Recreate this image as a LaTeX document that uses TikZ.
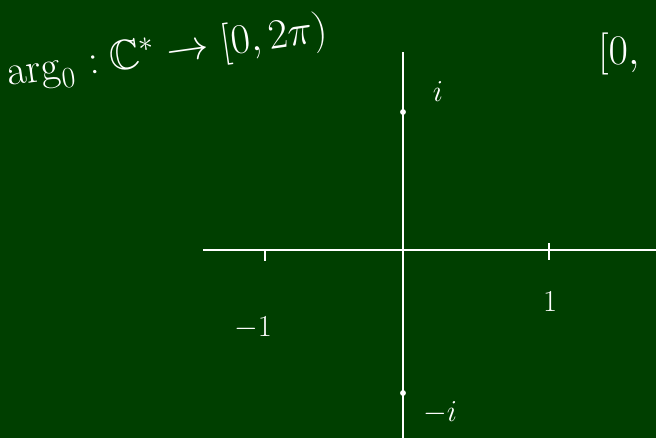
\documentclass[tikz,border=0pt]{standalone}
\usepackage{fix-cm}
\usepackage{amsmath,amssymb}
\usetikzlibrary{positioning}
\definecolor{BoardGreen}{HTML}{003F00}
\definecolor{Chalk}{HTML}{FFFFFF}

\begin{document}
\begin{tikzpicture}[
      x=0.3mm,y=-0.3mm,
      chalk/.style={draw=Chalk,line width=1.6pt},
      tick/.style={draw=Chalk,line width=1.4pt},
      label/.style={text=Chalk,inner sep=0pt,font=\fontsize{26}{30}\selectfont},
      big/.style={label,font=\fontsize{36}{40}\selectfont},
      dot/.style={circle,fill=Chalk,inner sep=0pt,minimum size=5pt}
    ]
      \fill[BoardGreen] (0,0) rectangle (656,438);
      \useasboundingbox (0,0) rectangle (656,438);
      % axes
      \coordinate (west) at (203,250);
      \coordinate (east) at (656,250);
      \coordinate (north) at (403,52);
      \coordinate (south) at (403,438);
      \draw[chalk] (west) -- (east);
      \draw[chalk] (north) -- (south);
      % ticks at -1 and 1
      \coordinate (mone) at (265,250);
      \coordinate (one) at (549,250);
      \draw[tick] (mone) -- ++(0,11);
      \draw[tick] (one) -- ++(0,-7) -- ++(0,17);
      \node[label] (onelbl) at (550,302) {$1$};
      \node[label] (monelbl) at (253,328) {$-1$};
      % points i and -i
      \node[dot] (ipt) at (403,112) {};
      \node[dot] (mipt) at (403,393) {};
      \node[label] (ilbl) at (438,92) {$i$};
      \node[label] (milbl) at (440,413) {$-i$};
      % the map
      \node[big,anchor=base west,rotate=8]
        (arg) at (8,86) {$\arg\nolimits_0\,{:}\;\mathbb{C}^{*}\to[0,2\pi)$};
      \node[big,anchor=base west] (rng) at (598,64) {$[0,$};
    \end{tikzpicture}
\end{document}
